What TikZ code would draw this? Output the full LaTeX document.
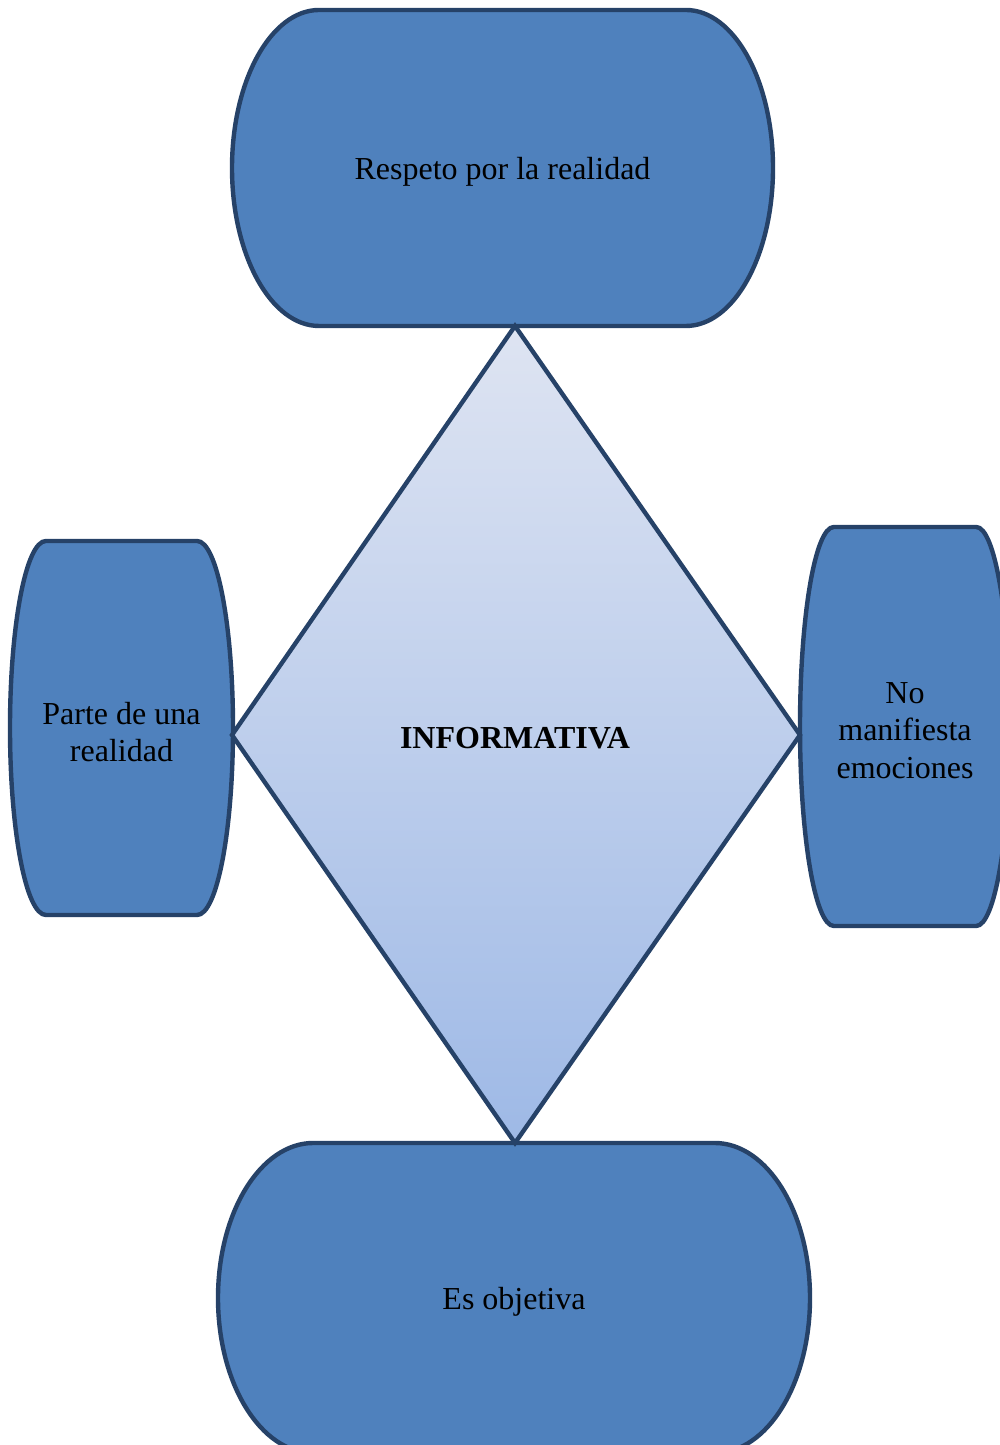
\documentclass[tikz,border=0pt]{standalone}
\usepackage{fontspec}
\setmainfont{Liberation Serif}
\definecolor{boxfill}{RGB}{79,129,189}
\definecolor{boxline}{RGB}{38,66,104}
\definecolor{diatop}{RGB}{222,228,242}
\definecolor{diabot}{RGB}{158,185,230}
\tikzset{
  termstyle/.style={draw=boxline, fill=boxfill, line width=2.2pt},
  termtext/.style={align=center, font=\fontsize{16}{18.75}\selectfont, inner sep=0pt},
  diastyle/.style={draw=boxline, line width=2.2pt, top color=diatop, bottom color=diabot, shading angle=0}
}
% #1 name, #2 x1, #3 x2, #4 ytop, #5 ybot (pixels from top), #6 text
\newcommand{\terminbox}[6]{%
  \pgfmathsetmacro\tbwr{0.161*(#3-#2)}%
  \pgfmathsetmacro\tbhr{(#5-#4)/2}%
  \pgfmathsetmacro\tbl{#2+\tbwr}%
  \pgfmathsetmacro\tbr{#3-\tbwr}%
  \pgfmathsetmacro\tbt{1445-#4}%
  \pgfmathsetmacro\tbb{1445-#5}%
  \draw[termstyle] (\tbl,\tbt) -- (\tbr,\tbt)
     arc[start angle=90, end angle=-90, x radius=\tbwr*0.5pt, y radius=\tbhr*0.5pt]
     -- (\tbl,\tbb)
     arc[start angle=270, end angle=90, x radius=\tbwr*0.5pt, y radius=\tbhr*0.5pt]
     -- cycle;
  \node[termtext] (#1) at ({(#2+#3)/2},{1445-(#4+#5)/2-4}) {#6};
}
\begin{document}
\begin{tikzpicture}[x=0.5pt, y=0.5pt]
\useasboundingbox (0,0) rectangle (1000,1445);
\terminbox{top}{232}{773}{10}{326}{Respeto por la realidad}
\terminbox{left}{10}{233}{541}{915}{Parte de una\\realidad}
\terminbox{right}{800}{1010}{527}{926}{No\\manifiesta\\emociones}
\terminbox{bottom}{218}{810}{1143}{1453}{Es objetiva}
\path[diastyle] (515,1119) -- (800,710) -- (515,302) -- (232,710) -- cycle;
\node[termtext, font=\fontsize{16}{18.75}\selectfont\bfseries] (center) at (515,707) {INFORMATIVA};
\end{tikzpicture}
\end{document}
